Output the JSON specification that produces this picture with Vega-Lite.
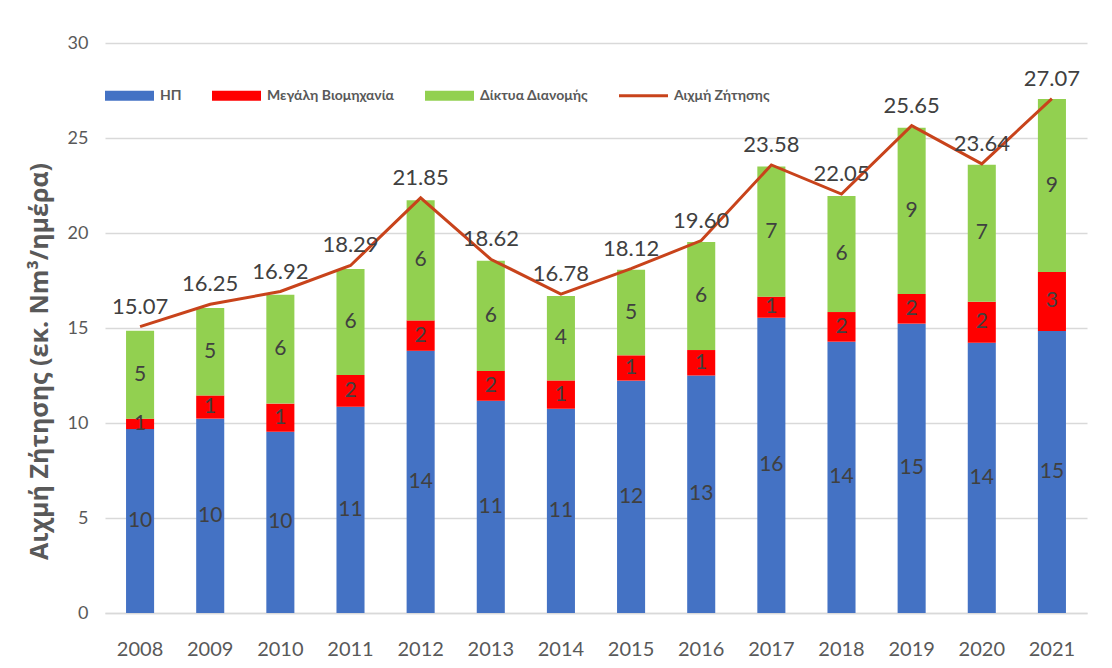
{
  "$schema": "https://vega.github.io/schema/vega-lite/v6.json",
  "width": 982,
  "height": 570,
  "autosize": {"type": "none"},
  "padding": {"left": 105, "top": 43, "right": 25, "bottom": 55},
  "background": "white",
  "config": {
    "font": "Lato",
    "view": {"stroke": null},
    "axis": {"labelFont": "Lato", "titleFont": "Open Sans"}
  },
  "datasets": {
    "bars": [
      {"year": 2008, "series": "ΗΠ", "ord": 1, "value": 9.68},
      {"year": 2008, "series": "Μεγάλη Βιομηχανία", "ord": 2, "value": 0.55},
      {"year": 2008, "series": "Δίκτυα Διανομής", "ord": 3, "value": 4.63},
      {"year": 2009, "series": "ΗΠ", "ord": 1, "value": 10.23},
      {"year": 2009, "series": "Μεγάλη Βιομηχανία", "ord": 2, "value": 1.22},
      {"year": 2009, "series": "Δίκτυα Διανομής", "ord": 3, "value": 4.6},
      {"year": 2010, "series": "ΗΠ", "ord": 1, "value": 9.54},
      {"year": 2010, "series": "Μεγάλη Βιομηχανία", "ord": 2, "value": 1.48},
      {"year": 2010, "series": "Δίκτυα Διανομής", "ord": 3, "value": 5.73},
      {"year": 2011, "series": "ΗΠ", "ord": 1, "value": 10.86},
      {"year": 2011, "series": "Μεγάλη Βιομηχανία", "ord": 2, "value": 1.67},
      {"year": 2011, "series": "Δίκτυα Διανομής", "ord": 3, "value": 5.57},
      {"year": 2012, "series": "ΗΠ", "ord": 1, "value": 13.8},
      {"year": 2012, "series": "Μεγάλη Βιομηχανία", "ord": 2, "value": 1.6},
      {"year": 2012, "series": "Δίκτυα Διανομής", "ord": 3, "value": 6.32},
      {"year": 2013, "series": "ΗΠ", "ord": 1, "value": 11.17},
      {"year": 2013, "series": "Μεγάλη Βιομηχανία", "ord": 2, "value": 1.57},
      {"year": 2013, "series": "Δίκτυα Διανομής", "ord": 3, "value": 5.8},
      {"year": 2014, "series": "ΗΠ", "ord": 1, "value": 10.75},
      {"year": 2014, "series": "Μεγάλη Βιομηχανία", "ord": 2, "value": 1.49},
      {"year": 2014, "series": "Δίκτυα Διανομής", "ord": 3, "value": 4.45},
      {"year": 2015, "series": "ΗΠ", "ord": 1, "value": 12.23},
      {"year": 2015, "series": "Μεγάλη Βιομηχανία", "ord": 2, "value": 1.33},
      {"year": 2015, "series": "Δίκτυα Διανομής", "ord": 3, "value": 4.51},
      {"year": 2016, "series": "ΗΠ", "ord": 1, "value": 12.5},
      {"year": 2016, "series": "Μεγάλη Βιομηχανία", "ord": 2, "value": 1.34},
      {"year": 2016, "series": "Δίκτυα Διανομής", "ord": 3, "value": 5.69},
      {"year": 2017, "series": "ΗΠ", "ord": 1, "value": 15.54},
      {"year": 2017, "series": "Μεγάλη Βιομηχανία", "ord": 2, "value": 1.11},
      {"year": 2017, "series": "Δίκτυα Διανομής", "ord": 3, "value": 6.85},
      {"year": 2018, "series": "ΗΠ", "ord": 1, "value": 14.28},
      {"year": 2018, "series": "Μεγάλη Βιομηχανία", "ord": 2, "value": 1.56},
      {"year": 2018, "series": "Δίκτυα Διανομής", "ord": 3, "value": 6.11},
      {"year": 2019, "series": "ΗΠ", "ord": 1, "value": 15.23},
      {"year": 2019, "series": "Μεγάλη Βιομηχανία", "ord": 2, "value": 1.56},
      {"year": 2019, "series": "Δίκτυα Διανομής", "ord": 3, "value": 8.75},
      {"year": 2020, "series": "ΗΠ", "ord": 1, "value": 14.23},
      {"year": 2020, "series": "Μεγάλη Βιομηχανία", "ord": 2, "value": 2.15},
      {"year": 2020, "series": "Δίκτυα Διανομής", "ord": 3, "value": 7.21},
      {"year": 2021, "series": "ΗΠ", "ord": 1, "value": 14.84},
      {"year": 2021, "series": "Μεγάλη Βιομηχανία", "ord": 2, "value": 3.11},
      {"year": 2021, "series": "Δίκτυα Διανομής", "ord": 3, "value": 9.1}
    ],
    "peak": [
      {"year": 2008, "series": "Αιχμή Ζήτησης", "value": 15.07},
      {"year": 2009, "series": "Αιχμή Ζήτησης", "value": 16.25},
      {"year": 2010, "series": "Αιχμή Ζήτησης", "value": 16.92},
      {"year": 2011, "series": "Αιχμή Ζήτησης", "value": 18.29},
      {"year": 2012, "series": "Αιχμή Ζήτησης", "value": 21.85},
      {"year": 2013, "series": "Αιχμή Ζήτησης", "value": 18.62},
      {"year": 2014, "series": "Αιχμή Ζήτησης", "value": 16.78},
      {"year": 2015, "series": "Αιχμή Ζήτησης", "value": 18.12},
      {"year": 2016, "series": "Αιχμή Ζήτησης", "value": 19.6},
      {"year": 2017, "series": "Αιχμή Ζήτησης", "value": 23.58},
      {"year": 2018, "series": "Αιχμή Ζήτησης", "value": 22.05},
      {"year": 2019, "series": "Αιχμή Ζήτησης", "value": 25.65},
      {"year": 2020, "series": "Αιχμή Ζήτησης", "value": 23.64},
      {"year": 2021, "series": "Αιχμή Ζήτησης", "value": 27.07}
    ]
  },
  "encoding": {
    "x": {
      "field": "year",
      "type": "ordinal",
      "scale": {"paddingInner": 0.6, "paddingOuter": 0.3},
      "axis": {
        "title": null,
        "labelAngle": 0,
        "labelFontSize": 20,
        "labelColor": "#595959",
        "labelPadding": 26,
        "ticks": false,
        "domain": true,
        "domainColor": "#D9D9D9",
        "domainWidth": 1.5,
        "grid": false
      }
    }
  },
  "layer": [
    {
      "data": {"name": "bars"},
      "transform": [
        {"stack": "value", "groupby": ["year"], "sort": [{"field": "ord", "order": "ascending"}], "as": ["y0", "y1"]}
      ],
      "layer": [
        {
          "mark": {"type": "bar"},
          "encoding": {
            "y": {
              "field": "y0",
              "type": "quantitative",
              "scale": {"domain": [0, 30]},
              "axis": {
                "title": "Αιχμή Ζήτησης (εκ. Nm³/ημέρα)",
                "titleFontSize": 25,
                "titleFontWeight": "bold",
                "titleColor": "#595959",
                "titlePadding": 15,
                "titleY": 318,
                "values": [0, 5, 10, 15, 20, 25, 30],
                "labelFontSize": 18,
                "labelColor": "#595959",
                "labelPadding": 17,
                "ticks": false,
                "domain": false,
                "grid": true,
                "gridColor": "#D9D9D9",
                "gridWidth": 1.5
              }
            },
            "y2": {"field": "y1"},
            "color": {
              "field": "series",
              "type": "nominal",
              "scale": {
                "domain": ["ΗΠ", "Μεγάλη Βιομηχανία", "Δίκτυα Διανομής", "Αιχμή Ζήτησης"],
                "range": ["#4472C4", "#FF0000", "#92D050", "#C8431B"]
              },
              "legend": {
                "title": null,
                "orient": "none",
                "legendX": 0,
                "legendY": 28,
                "direction": "horizontal",
                "columnPadding": 30,
                "labelOffset": 6,
                "symbolType": "M-1,-0.2H1V0.2H-1Z",
                "symbolSize": 2401,
                "symbolStrokeWidth": 0,
                "labelFontSize": 14,
                "labelFontWeight": "bold",
                "labelColor": "#595959",
                "labelFont": "Lato",
                "encode": {
                  "symbols": {
                    "update": {
                      "fill": {"scale": "color", "field": "value"},
                      "strokeWidth": {"value": 0},
                      "shape": {"signal": "datum.value === 'Αιχμή Ζήτησης' ? 'M-1,-0.06H1V0.06H-1Z' : 'M-1,-0.2H1V0.2H-1Z'"}
                    }
                  }
                }
              }
            }
          }
        },
        {
          "transform": [{"fold": ["y0", "y1"], "as": ["k", "pos"]}],
          "mark": {"type": "text", "fontSize": 21, "color": "#404040", "baseline": "middle"},
          "encoding": {
            "y": {"aggregate": "mean", "field": "pos", "type": "quantitative"},
            "detail": {"field": "series", "type": "nominal"},
            "text": {"field": "value", "type": "quantitative", "format": ".0f"}
          }
        }
      ]
    },
    {
      "data": {"name": "peak"},
      "layer": [
        {
          "mark": {"type": "line", "strokeWidth": 3},
          "encoding": {
            "y": {"field": "value", "type": "quantitative"},
            "color": {"field": "series", "type": "nominal"}
          }
        },
        {
          "mark": {"type": "text", "fontSize": 22, "color": "#404040", "baseline": "alphabetic", "dy": -13},
          "encoding": {
            "y": {"field": "value", "type": "quantitative"},
            "text": {"field": "value", "type": "quantitative", "format": ".2f"}
          }
        }
      ]
    }
  ]
}
